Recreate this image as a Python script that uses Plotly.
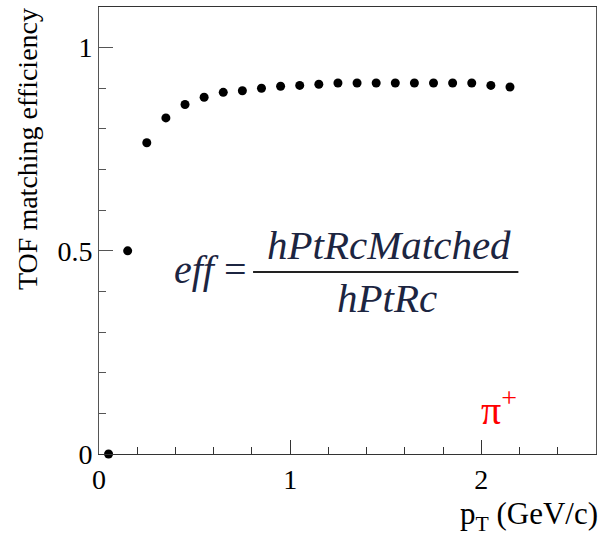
import plotly.graph_objects as go

pt = [0.05, 0.15, 0.25, 0.35, 0.45, 0.55, 0.65, 0.75, 0.85, 0.95, 1.05,
      1.15, 1.25, 1.35, 1.45, 1.55, 1.65, 1.75, 1.85, 1.95, 2.05, 2.15]
eff = [0.0, 0.50, 0.766, 0.827, 0.860, 0.878, 0.890, 0.894, 0.900, 0.905, 0.907,
       0.910, 0.913, 0.913, 0.913, 0.913, 0.913, 0.913, 0.913, 0.913, 0.907, 0.903]

x_ticks = [0, 1, 2]
y_ticks = [0, 0.5, 1]
y_tick_text = ["0", "0.5", "1"]

FONT = "Liberation Serif, serif"
NAVY = "#1c2541"

fig = go.Figure()
fig.add_trace(go.Scatter(
    x=pt, y=eff, mode="markers",
    marker=dict(symbol="circle", size=9, color="black"),
    cliponaxis=False, showlegend=False,
))

fig.update_layout(
    width=600, height=540,
    margin=dict(l=99, r=4, t=7, b=86),
    paper_bgcolor="white", plot_bgcolor="white",
    font=dict(family=FONT, size=28, color="black"),
    xaxis=dict(
        range=[0, 2.6], tickvals=x_ticks, ticktext=[str(v) for v in x_ticks],
        ticks="inside", ticklen=14, tickcolor="#333", tickwidth=1,
        minor=dict(ticks="inside", ticklen=7, dtick=0.2, tick0=0, tickcolor="#333"),
        showline=True, linecolor="#333", linewidth=1, mirror=True,
        showgrid=False, zeroline=False,
        tickfont=dict(family=FONT, size=28),
    ),
    yaxis=dict(
        range=[0, 1.1], tickvals=y_ticks, ticktext=y_tick_text,
        ticks="inside", ticklen=14, tickcolor="#555", tickwidth=1,
        minor=dict(ticks="inside", ticklen=7, dtick=0.1, tick0=0, tickcolor="#555"),
        showline=True, linecolor="#555", linewidth=1, mirror=True,
        showgrid=False, zeroline=False,
        tickfont=dict(family=FONT, size=28),
    ),
)

# axis titles (ROOT style, aligned to the end)
fig.add_annotation(text="TOF matching efficiency", textangle=-90,
                   xref="paper", yref="paper", x=(27 - 99) / 497, y=(454 - 149) / 447,
                   xanchor="center", yanchor="middle", showarrow=False,
                   font=dict(family=FONT, size=28, color="black"))
fig.add_annotation(text="p<sub>T</sub> (GeV/c)",
                   xref="paper", yref="paper", x=(600 - 99) / 497, y=(454 - 516) / 447,
                   xanchor="right", yanchor="middle", showarrow=False,
                   font=dict(family=FONT, size=31, color="black"))

# formula
fig.add_annotation(text="<i>eff</i> =", xref="x", yref="y", x=0.585, y=0.455,
                   xanchor="center", yanchor="middle", showarrow=False,
                   font=dict(family=FONT, size=40, color=NAVY))
fig.add_annotation(text="<i>hPtRcMatched</i>", xref="x", yref="y", x=1.516, y=0.514,
                   xanchor="center", yanchor="middle", showarrow=False,
                   font=dict(family=FONT, size=41, color=NAVY))
fig.add_annotation(text="<i>hPtRc</i>", xref="x", yref="y", x=1.508, y=0.384,
                   xanchor="center", yanchor="middle", showarrow=False,
                   font=dict(family=FONT, size=41, color=NAVY))
fig.add_shape(type="line", xref="x", yref="y", x0=0.806, x1=2.194, y0=0.448, y1=0.448,
              line=dict(color="#222", width=2))

fig.add_annotation(text="π<sup>+</sup>", xref="x", yref="y", x=2.09, y=0.115,
                   xanchor="center", yanchor="middle", showarrow=False,
                   font=dict(family=FONT, size=40, color="red"))

fig.write_html("out.html")
